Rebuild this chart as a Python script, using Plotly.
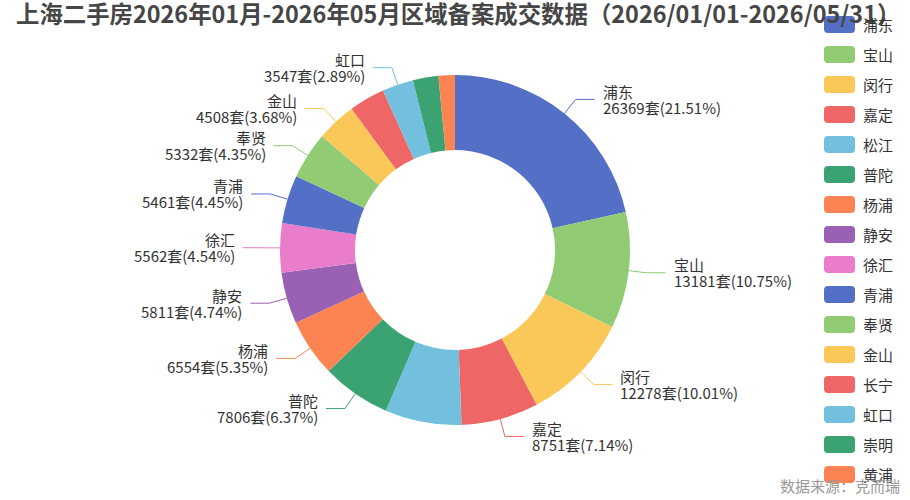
import math
import plotly.graph_objects as go

# 区域备案成交套数（2026/01/01-2026/05/31）
districts = ["浦东", "宝山", "闵行", "嘉定", "松江", "普陀", "杨浦", "静安",
             "徐汇", "青浦", "奉贤", "金山", "长宁", "虹口", "崇明", "黄浦"]
deals = [26369, 13181, 12278, 8751, 8660, 7806, 6554, 5811,
         5562, 5461, 5332, 4508, 4050, 3547, 2880, 1857]
# slices whose outside label is hidden in the original
unlabeled = ["松江", "长宁", "崇明", "黄浦"]

title_text = "上海二手房2026年01月-2026年05月区域备案成交数据（2026/01/01-2026/05/31）"
source_text = "数据来源：克而瑞"

palette = ["#5470c6", "#91cc75", "#fac858", "#ee6666", "#73c0de",
           "#3ba272", "#fc8452", "#9a60b4", "#ea7ccc"]

W, H = 910, 500
CX, CY = 455, 250
R_OUT, R_IN = 175, 100
FONT = "Noto Sans CJK SC, Noto Sans, sans-serif"

colors = [palette[i % len(palette)] for i in range(len(districts))]
total = sum(deals)

fig = go.Figure()

# invisible pixel axes so helper lines/labels use plain pixel coordinates
fig.add_trace(go.Scatter(x=[0, W], y=[0, H], mode="markers",
                         marker=dict(opacity=0), hoverinfo="skip", showlegend=False))

fig.add_trace(go.Pie(
    labels=districts, values=deals, sort=False, direction="clockwise", rotation=0,
    hole=R_IN / R_OUT, textinfo="none", showlegend=False,
    marker=dict(colors=colors, line=dict(width=0)),
    domain=dict(x=[(CX - R_OUT) / W, (CX + R_OUT) / W],
                y=[1 - (CY + R_OUT) / H, 1 - (CY - R_OUT) / H]),
    hovertemplate="%{label}<br>%{value}套 (%{percent})<extra></extra>",
))

annotations = []
shapes = []

# outside labels with leader lines
cum = 0
for name, v, c in zip(districts, deals, colors):
    mid = (cum + v / 2) / total * 2 * math.pi
    cum += v
    if name in unlabeled:
        continue
    s, co = math.sin(mid), math.cos(mid)
    x0, y0 = CX + R_OUT * s, CY - R_OUT * co
    x1, y1 = CX + (R_OUT + 18) * s, CY - (R_OUT + 18) * co
    right = s >= 0
    x2 = x1 + (19 if right else -19)
    fig.add_trace(go.Scatter(x=[x0, x1, x2], y=[y0, y1, y1], mode="lines",
                             line=dict(color=c, width=1), hoverinfo="skip",
                             showlegend=False))
    tx = x2 + (6 if right else -6)
    anchor = "left" if right else "right"
    pct = v / total * 100
    for txt, dy in ((name, -8), (f"{v}套({pct:.2f}%)", 8)):
        annotations.append(dict(x=tx, y=y1 + dy, xref="x", yref="y", text=txt,
                                showarrow=False, xanchor=anchor, yanchor="middle",
                                align=anchor, font=dict(size=15, color="#333", family=FONT)))

# legend on the right (rounded colour blocks)
def rounded_rect(x, y, w, h, r):
    return (f"M{x + r},{y} L{x + w - r},{y} Q{x + w},{y} {x + w},{y + r} "
            f"L{x + w},{y + h - r} Q{x + w},{y + h} {x + w - r},{y + h} "
            f"L{x + r},{y + h} Q{x},{y + h} {x},{y + h - r} "
            f"L{x},{y + r} Q{x},{y} {x + r},{y} Z")

for i, (name, c) in enumerate(zip(districts, colors)):
    yc = 24.5 + 30 * i
    shapes.append(dict(type="path", xref="x", yref="y",
                       path=rounded_rect(824, yc - 8.5, 31, 17, 4),
                       fillcolor=c, line=dict(width=0), layer="above"))
    annotations.append(dict(x=861, y=yc, xref="x", yref="y", text=name, showarrow=False,
                            xanchor="left", yanchor="middle",
                            font=dict(size=15, color="#333", family=FONT)))

annotations.append(dict(x=902, y=485, xref="x", yref="y", text=source_text, showarrow=False,
                        xanchor="right", yanchor="middle",
                        font=dict(size=15, color="#999", family=FONT)))

fig.update_layout(
    width=W, height=H,
    margin=dict(l=0, r=0, t=0, b=0),
    paper_bgcolor="white", plot_bgcolor="white",
    title=dict(text=title_text, x=16 / W, xanchor="left", xref="paper",
               y=1 - 15 / H, yanchor="middle", yref="paper",
               font=dict(size=23.4, color="#464646", family=FONT, weight="bold")),
    xaxis=dict(range=[0, W], visible=False, fixedrange=True),
    yaxis=dict(range=[H, 0], visible=False, fixedrange=True),
    shapes=shapes,
    annotations=annotations,
    showlegend=False,
)

fig.write_html("out.html", config={"displayModeBar": False},
               post_script="document.body.style.margin='0';document.body.style.overflow='hidden';")
